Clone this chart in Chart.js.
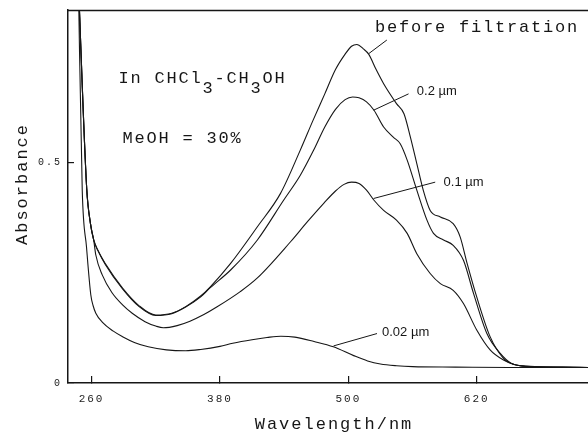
<!DOCTYPE html>
<html>
<head>
<meta charset="utf-8">
<script src="https://cdn.jsdelivr.net/npm/chart.js@4.4.1/dist/chart.umd.min.js"></script>
<style>
  html, body { margin: 0; padding: 0; background: #fff; }
  canvas { display: block; }
</style>
</head>
<body>
<canvas id="spectra" width="588" height="436"></canvas>
<script>
// wavelengths (nm) and absorbances
const beforeWl  = [247.8, 255.5, 259, 262, 266, 273, 289, 304, 320, 335, 348, 362, 371, 390, 415, 436.5, 455, 467, 478, 488, 497, 503, 508, 514, 519, 526, 533, 545, 552, 558, 564, 570, 576.5, 586, 598, 604.5, 611, 620, 632.5, 645, 655, 670, 700, 724];
const beforeAbs = [0.9, 0.44, 0.361, 0.324, 0.3, 0.27, 0.215, 0.176, 0.154, 0.158, 0.173, 0.197, 0.218, 0.271, 0.354, 0.429, 0.527, 0.595, 0.655, 0.71, 0.745, 0.763, 0.767, 0.757, 0.745, 0.71, 0.678, 0.633, 0.61, 0.557, 0.497, 0.437, 0.391, 0.376, 0.361, 0.331, 0.271, 0.195, 0.105, 0.056, 0.042, 0.038, 0.036, 0.035];

const um02Wl  = [247.8, 255.5, 259, 262, 266, 273, 289, 304, 320, 335, 348, 362, 371, 390, 415, 439.5, 455, 467.5, 478, 488, 497, 504, 510, 517, 524, 533, 542, 548.5, 555, 564, 573.5, 579.6, 589, 598, 607.6, 617, 629.5, 642, 652, 665, 700, 724];
const um02Abs = [0.9, 0.44, 0.361, 0.324, 0.3, 0.268, 0.213, 0.174, 0.153, 0.157, 0.172, 0.195, 0.216, 0.256, 0.324, 0.414, 0.47, 0.527, 0.58, 0.62, 0.642, 0.648, 0.646, 0.637, 0.618, 0.58, 0.557, 0.542, 0.505, 0.437, 0.369, 0.339, 0.324, 0.312, 0.278, 0.203, 0.112, 0.067, 0.045, 0.038, 0.036, 0.035];

const um01Wl  = [247.8, 255.5, 259, 262, 264, 270, 279, 289, 298, 310, 320, 327, 340, 352, 365, 377, 399, 415, 446, 462, 477, 488, 496, 503, 510, 517, 524, 533, 545, 555, 564, 576.5, 586, 598, 607.6, 620, 632.5, 645, 655, 670, 724];
const um01Abs = [0.9, 0.44, 0.361, 0.324, 0.29, 0.245, 0.205, 0.177, 0.158, 0.139, 0.129, 0.125, 0.13, 0.14, 0.155, 0.172, 0.207, 0.238, 0.32, 0.366, 0.407, 0.435, 0.45, 0.455, 0.452, 0.437, 0.414, 0.391, 0.369, 0.339, 0.293, 0.248, 0.225, 0.21, 0.18, 0.12, 0.075, 0.052, 0.042, 0.037, 0.035];

const um002Wl  = [247.8, 248.3, 251.3, 255.3, 259.3, 261.5, 264, 270, 280, 289, 300, 313, 330, 348, 362, 380, 392, 410, 424, 437, 450, 468, 486, 505, 518, 530, 545, 560, 600, 650, 724];
const um002Abs = [0.9, 0.82, 0.437, 0.308, 0.2, 0.175, 0.158, 0.138, 0.118, 0.105, 0.092, 0.082, 0.075, 0.073, 0.076, 0.083, 0.09, 0.098, 0.103, 0.106, 0.104, 0.094, 0.082, 0.062, 0.05, 0.043, 0.039, 0.037, 0.036, 0.035, 0.035];

const xTicks = [260, 380, 500, 620];
const yTicks = [0, 0.5];

// labels placed in data units (wavelength, absorbance)
const curveNotes = [
  { text: 'before filtration', wl: 525, abs: 0.796, from: [519, 0.746], to: [536, 0.777], mono: true },
  { text: '0.2 µm', wl: 564, abs: 0.661, from: [523.6, 0.618], to: [556.3, 0.655] },
  { text: '0.1 µm', wl: 589, abs: 0.455, from: [523.6, 0.418], to: [581.2, 0.455] },
  { text: '0.02 µm', wl: 531.5, abs: 0.114, from: [486.2, 0.084], to: [526.8, 0.112] }
];

function toPoints(xs, ys) {
  return xs.map((x, i) => ({ x: x, y: ys[i] }));
}

function lineSet(label, xs, ys) {
  return {
    label: label,
    data: toPoints(xs, ys),
    borderColor: '#161616',
    borderWidth: 1.1,
    pointRadius: 0,
    fill: false,
    cubicInterpolationMode: 'monotone'
  };
}

const MONO = '"Liberation Mono", "DejaVu Sans Mono", monospace';
const SANS = '"Liberation Sans", Arial, sans-serif';

const decorations = {
  id: 'decorations',
  beforeDraw(chart) {
    chart.ctx.letterSpacing = '2px';
  },
  afterDraw(chart) {
    const ctx = chart.ctx;
    const xs = chart.scales.x, ys = chart.scales.y;
    const area = chart.chartArea;
    ctx.save();
    ctx.letterSpacing = '0px';
    ctx.strokeStyle = '#161616';
    ctx.fillStyle = '#161616';

    // top frame line
    ctx.lineWidth = 1.5;
    ctx.beginPath();
    ctx.moveTo(area.left, area.top + 0.5);
    ctx.lineTo(area.right, area.top + 0.5);
    ctx.stroke();

    // leader lines and curve labels
    ctx.lineWidth = 1;
    curveNotes.forEach(n => {
      ctx.beginPath();
      ctx.moveTo(xs.getPixelForValue(n.from[0]), ys.getPixelForValue(n.from[1]));
      ctx.lineTo(xs.getPixelForValue(n.to[0]), ys.getPixelForValue(n.to[1]));
      ctx.stroke();
      const px = xs.getPixelForValue(n.wl), py = ys.getPixelForValue(n.abs);
      if (n.mono) {
        ctx.font = '17px ' + MONO;
        ctx.letterSpacing = '1.8px';
        ctx.textBaseline = 'alphabetic';
      } else {
        ctx.font = '13px ' + SANS;
        ctx.letterSpacing = '0px';
        ctx.textBaseline = 'middle';
      }
      ctx.textAlign = 'left';
      ctx.fillText(n.text, px, py);
    });

    // solvent note with subscripts
    ctx.font = '17px ' + MONO;
    ctx.letterSpacing = '1.8px';
    ctx.textBaseline = 'alphabetic';
    let cx = xs.getPixelForValue(285.2);
    const base = ys.getPixelForValue(0.679);
    [['In CHCl', 0], ['3', 10], ['-CH', 0], ['3', 10], ['OH', 0]].forEach(part => {
      ctx.fillText(part[0], cx, base + part[1]);
      cx += ctx.measureText(part[0]).width;
    });
    ctx.fillText('MeOH = 30%', xs.getPixelForValue(289), ys.getPixelForValue(0.543));

    // axis titles
    ctx.font = '17px ' + MONO;
    ctx.letterSpacing = '2px';
    ctx.textAlign = 'center';
    ctx.textBaseline = 'middle';
    ctx.fillText('Wavelength/nm', (area.left + area.right) / 2 + 6, 424);
    ctx.translate(22, 184);
    ctx.rotate(-Math.PI / 2);
    ctx.fillText('Absorbance', 0, 0);
    ctx.restore();
  }
};

new Chart(document.getElementById('spectra'), {
  type: 'line',
  data: {
    datasets: [
      lineSet('before filtration', beforeWl, beforeAbs),
      lineSet('0.2 µm', um02Wl, um02Abs),
      lineSet('0.1 µm', um01Wl, um01Abs),
      lineSet('0.02 µm', um002Wl, um002Abs)
    ]
  },
  options: {
    responsive: false,
    devicePixelRatio: 1,
    animation: false,
    layout: { padding: { top: 10, right: 0, left: 0, bottom: 0 } },
    plugins: {
      legend: { display: false },
      tooltip: { enabled: false }
    },
    scales: {
      x: {
        type: 'linear',
        min: 238,
        max: 724,
        afterBuildTicks: s => { s.ticks = xTicks.map(v => ({ value: v })); },
        afterFit: s => { s.height = 53; s.paddingLeft = 0; s.paddingRight = 0; },
        ticks: {
          autoSkip: false,
          maxRotation: 0,
          padding: 16,
          color: '#222',
          font: { family: MONO, size: 11 },
          callback: v => String(v)
        },
        grid: { drawOnChartArea: false, drawTicks: true, tickLength: -7, color: '#161616', lineWidth: 1.2 },
        border: { display: true, color: '#161616', width: 1.5 }
      },
      y: {
        min: 0,
        max: 0.845,
        afterBuildTicks: s => { s.ticks = yTicks.map(v => ({ value: v })); },
        afterFit: s => { s.width = 68; s.paddingTop = 0; s.paddingBottom = 0; },
        ticks: {
          padding: 12,
          color: '#222',
          font: { family: MONO, size: 10 },
          callback: v => String(v)
        },
        grid: { drawOnChartArea: false, drawTicks: true, tickLength: -6, color: '#161616', lineWidth: 1.2 },
        border: { display: true, color: '#161616', width: 1.5 }
      }
    }
  },
  plugins: [decorations]
});
</script>
</body>
</html>
